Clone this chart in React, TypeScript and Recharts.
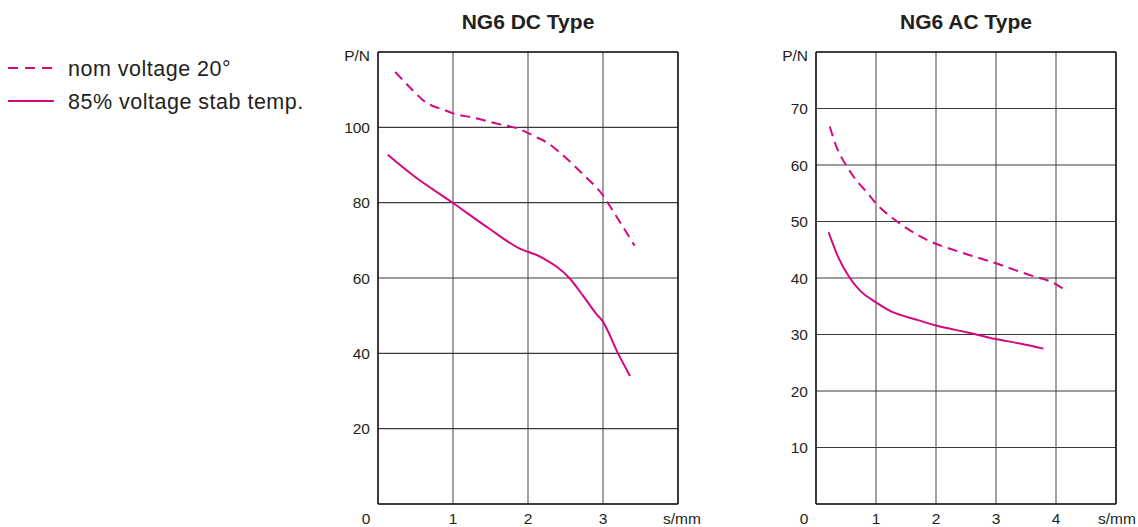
import { LineChart, Line, XAxis, YAxis, CartesianGrid, ReferenceLine } from "recharts";

// NG6 DC: stroke s (mm) vs force P (N)
const DC_NOM_S = [0.23, 0.47, 0.6, 0.91, 1.0, 1.27, 1.58, 1.87, 2.11, 2.25, 2.47, 2.73, 3.0, 3.13, 3.42];
const DC_NOM_P = [114.7, 109.7, 107.2, 104.4, 103.7, 102.6, 101.0, 99.6, 97.4, 96.0, 92.5, 87.6, 81.9, 77.9, 68.6];
const DC_85_S = [0.13, 0.47, 1.0, 1.49, 1.87, 2.18, 2.56, 2.73, 2.91, 2.99, 3.2, 3.36];
const DC_85_P = [92.7, 87.2, 79.9, 73.0, 68.0, 65.5, 59.8, 55.4, 50.5, 48.7, 40.0, 34.0];

// NG6 AC
const AC_NOM_S = [0.23, 0.32, 0.54, 0.9, 1.0, 1.34, 1.84, 2.4, 3.0, 3.51, 3.98, 4.12];
const AC_NOM_P = [66.8, 63.8, 59.3, 54.5, 53.2, 50.1, 46.8, 44.6, 42.6, 40.7, 39.0, 38.1];
const AC_85_S = [0.21, 0.37, 0.54, 0.73, 1.0, 1.29, 1.62, 2.0, 2.51, 3.0, 3.4, 3.79];
const AC_85_P = [48.1, 43.7, 40.4, 37.8, 35.7, 33.9, 32.8, 31.6, 30.4, 29.2, 28.4, 27.5];

const DC_X_TICKS = [0, 1, 2, 3, 4];
const DC_Y_TICKS = [20, 40, 60, 80, 100, 120];
const AC_X_TICKS = [0, 1, 2, 3, 4, 5];
const AC_Y_TICKS = [10, 20, 30, 40, 50, 60, 70, 80];

const SERIES_NAMES = ["nom voltage 20°", "85% voltage stab temp."];

const MAGENTA = "#d4087f";
const INK = "#231f20";
const FONT = "'Liberation Sans', Arial, Helvetica, sans-serif";

const toPoints = (s: number[], p: number[]) => s.map((v, i) => ({ s: v, p: p[i] }));

function XTick(props: any) {
  const { x, y, payload, last, unitDx } = props;
  const v = payload.value;
  let label = String(v);
  let dx = 0;
  if (v === 0) dx = -12;
  if (v === last) {
    label = "s/mm";
    dx = unitDx;
  }
  return (
    <text x={x + dx} y={y + 18} textAnchor="middle" fill={INK} fontSize={15.5} fontFamily={FONT}>
      {label}
    </text>
  );
}

function YTick(props: any) {
  const { x, y, payload, top } = props;
  const v = payload.value;
  const isTop = v === top;
  return (
    <text x={x} y={y + (isTop ? 3 : 0)} dy="0.355em" textAnchor="end" fill={INK} fontSize={15.5} fontFamily={FONT}>
      {isTop ? "P/N" : String(v)}
    </text>
  );
}

type PanelProps = {
  left: number;
  width: number;
  rightMargin: number;
  xMax: number;
  yMax: number;
  xTicks: number[];
  yTicks: number[];
  nom: { s: number; p: number }[];
  low: { s: number; p: number }[];
  unitDx: number;
};

function Panel({ left, width, rightMargin, xMax, yMax, xTicks, yTicks, nom, low, unitDx }: PanelProps) {
  return (
    <div style={{ position: "absolute", left, top: 0 }}>
      <LineChart
        width={width}
        height={527}
        margin={{ top: 52, right: rightMargin, bottom: 0, left: 0 }}
        style={{ overflow: "visible" }}
      >
        <CartesianGrid horizontal={false} stroke="#6e6e6e" strokeWidth={1.3} />
        <CartesianGrid vertical={false} stroke="#3a3a3a" strokeWidth={1.2} />
        <XAxis
          type="number"
          dataKey="s"
          domain={[0, xMax]}
          ticks={xTicks}
          height={23}
          tickSize={0}
          tickMargin={2}
          axisLine={{ stroke: INK, strokeWidth: 1.6 }}
          tick={(p: any) => <XTick {...p} last={xMax} unitDx={unitDx} />}
          allowDataOverflow
        />
        <YAxis
          type="number"
          dataKey="p"
          domain={[0, yMax]}
          ticks={yTicks}
          width={48}
          tickSize={0}
          tickMargin={8}
          axisLine={{ stroke: INK, strokeWidth: 1.6 }}
          tick={(p: any) => <YTick {...p} top={yMax} />}
          allowDataOverflow
        />
        <ReferenceLine x={xMax} stroke={INK} strokeWidth={1.6} />
        <ReferenceLine y={yMax} stroke={INK} strokeWidth={1.6} />
        <Line
          name={SERIES_NAMES[0]}
          data={nom}
          dataKey="p"
          type="monotone"
          stroke={MAGENTA}
          strokeWidth={2}
          strokeDasharray="10 6"
          dot={false}
          isAnimationActive={false}
        />
        <Line
          name={SERIES_NAMES[1]}
          data={low}
          dataKey="p"
          type="monotone"
          stroke={MAGENTA}
          strokeWidth={2}
          dot={false}
          isAnimationActive={false}
        />
      </LineChart>
    </div>
  );
}

export default function App() {
  return (
    <div
      style={{
        position: "absolute",
        left: 0,
        top: 0,
        width: 1138,
        height: 527,
        background: "#fff",
        fontFamily: FONT,
        overflow: "hidden",
      }}
    >
      <svg width={1138} height={527} style={{ position: "absolute", left: 0, top: 0 }}>
        <line x1={8} y1={68} x2={55} y2={68} stroke={MAGENTA} strokeWidth={2} strokeDasharray="10 7" />
        <text x={68} y={68} dy="0.355em" fontSize={21.5} letterSpacing={0.5} fill={INK} fontFamily={FONT}>
          {SERIES_NAMES[0]}
        </text>
        <line x1={8} y1={101} x2={54} y2={101} stroke={MAGENTA} strokeWidth={2} />
        <text x={68} y={101} dy="0.355em" fontSize={21.5} letterSpacing={0.5} fill={INK} fontFamily={FONT}>
          {SERIES_NAMES[1]}
        </text>
        <text x={528} y={29} textAnchor="middle" fontSize={21} fontWeight="bold" fill={INK} fontFamily={FONT}>
          NG6 DC Type
        </text>
        <text x={966} y={29} textAnchor="middle" fontSize={21} fontWeight="bold" fill={INK} fontFamily={FONT}>
          NG6 AC Type
        </text>
      </svg>
      <Panel
        left={330}
        width={380}
        rightMargin={32}
        xMax={4}
        yMax={120}
        xTicks={DC_X_TICKS}
        yTicks={DC_Y_TICKS}
        nom={toPoints(DC_NOM_S, DC_NOM_P)}
        low={toPoints(DC_85_S, DC_85_P)}
        unitDx={4}
      />
      <Panel
        left={768}
        width={370}
        rightMargin={22}
        xMax={5}
        yMax={80}
        xTicks={AC_X_TICKS}
        yTicks={AC_Y_TICKS}
        nom={toPoints(AC_NOM_S, AC_NOM_P)}
        low={toPoints(AC_85_S, AC_85_P)}
        unitDx={1}
      />
    </div>
  );
}
